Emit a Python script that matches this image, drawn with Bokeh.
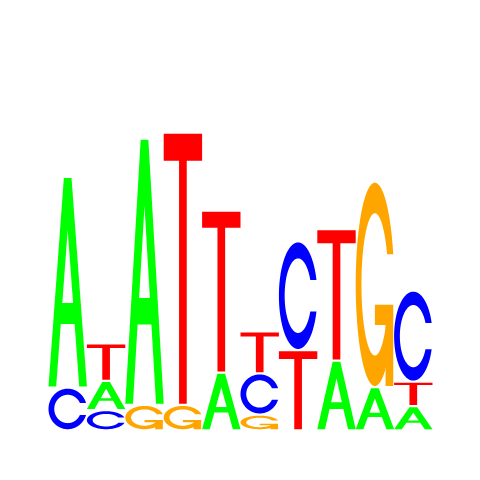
# seqlogo_plot.py
#
# Sequence logo drawn with letter polygons, stacked by height

# ========
# SETTINGS
# ========

# Libraries
import numpy as np
from bokeh import plotting
from bokeh import models
from bokeh.embed import file_html
from bokeh.resources import INLINE

# ====
# DATA
# ====

# Motif positions
positions = [1, 2, 3, 4, 5, 6, 7, 8, 9, 10]

# Letter heights (bits) per position
height_a = [1.39, 0.18, 1.76, 0.0, 0.37, 0.0, 0.0, 0.45, 0.273, 0.146]
height_c = [0.27, 0.12, 0.0, 0.0, 0.0, 0.26, 0.71, 0.0, 0.0, 0.593]
height_g = [0.0, 0.0, 0.155, 0.155, 0.0, 0.09, 0.0, 0.0, 1.355, 0.0]
height_t = [0.0, 0.235, 0.0, 1.80, 1.065, 0.265, 0.52, 0.861, 0.0, 0.148]

# Letter colours
colours = {'A': '#00ff00', 'C': '#0000ff', 'G': '#ffa500', 'T': '#ff0000'}

# Gap between stacked letters
gap = 0.015

# ======
# GLYPHS
# ======

def letter_c_ring():
	'''Outline of the letter C in the unit square'''

	angle1 = np.linspace(0.3 + np.pi / 2, np.pi, 100)
	angle2 = np.linspace(np.pi, 1.5 * np.pi, 100)

	# Outer curve, lower half then mirrored upper half
	xl = np.concatenate([0.5 + 0.5 * np.sin(angle1), 0.5 + 0.5 * np.sin(angle2)])
	yl = np.concatenate([0.5 + 0.5 * np.cos(angle1), 0.5 + 0.5 * np.cos(angle2)])
	x = np.concatenate([xl, xl[::-1]])
	y = np.concatenate([yl, 1 - yl[::-1]])

	# Inner curve, cut level with the outer end
	top = np.max(0.5 + 0.5 * np.cos(angle1))
	xi1 = 0.5 + 0.35 * np.sin(angle1)
	yi1 = 0.5 + 0.35 * np.cos(angle1)
	keep = yi1 <= top
	xi1 = xi1[keep]
	yi1 = yi1[keep]
	yi1[0] = top
	xi = np.concatenate([xi1, 0.5 + 0.35 * np.sin(angle2)])
	yi = np.concatenate([yi1, 0.5 + 0.35 * np.cos(angle2)])
	x1 = np.concatenate([xi, xi[::-1]])
	y1 = np.concatenate([yi, 1 - yi[::-1]])

	# Join outer and reversed inner
	return np.concatenate([x, x1[::-1]]), np.concatenate([y, y1[::-1]])

def letter_shapes(letter):
	'''Polygons (exterior plus holes) for a letter in the unit square'''

	if letter == 'A':
		outer = (np.array([0, 0.4, 0.6, 1, 0.8, 0.68, 0.32, 0.2]),
				 np.array([0, 1, 1, 0, 0, 0.3, 0.3, 0]))
		hole = (np.array([0.36, 0.5, 0.64]), np.array([0.4, 0.75, 0.4]))
		return [[outer, hole]]

	if letter == 'T':
		return [[(np.array([0, 1, 1, 0.6, 0.6, 0.4, 0.4, 0]),
				  np.array([1, 1, 0.9, 0.9, 0, 0, 0.9, 0.9]))]]

	ring = letter_c_ring()
	if letter == 'C':
		return [[ring]]

	# G is a C with a bar (kept as its own polygon so overlaps stay filled)
	r1 = np.max(ring[0])
	bar = (np.array([r1, 0.5, 0.5, r1 - 0.2, r1 - 0.2, r1, r1]),
		   np.array([0.4, 0.4, 0.3, 0.3, 0, 0, 0.4]))
	return [[ring], [bar]]

# ====
# MAIN
# ====

# Stack letters, smallest at the bottom
xs = []
ys = []
fill = []
for i, pos in enumerate(positions):
	column = {'A': height_a[i], 'C': height_c[i], 'G': height_g[i], 'T': height_t[i]}
	ypos = 0.0
	for letter in sorted(column, key=lambda k: column[k]):
		ht = column[letter]
		if ht <= 0:
			continue
		for poly in letter_shapes(letter):
			xs.append([[list(pos - 0.5 + rx) for rx, ry in poly]])
			ys.append([[list(ypos + ht * ry) for rx, ry in poly]])
			fill.append(colours[letter])
		ypos = ypos + ht + gap

source = models.ColumnDataSource(data=dict(xs=xs, ys=ys, fill=fill))

# Create figure
p = plotting.figure(
	width=464,
	height=464,
	x_range=models.Range1d(-0.75, 11.3333),
	y_range=models.Range1d(-0.2353, 2.858),
	tools='',
	toolbar_location=None,
	output_backend='svg',
	min_border=0
	)

# Add letters
p.multi_polygons(xs='xs', ys='ys', fill_color='fill', line_color=None, source=source)

# Tidy
p.axis.visible = False
p.grid.visible = False
p.outline_line_color = None
p.background_fill_color = 'white'
p.border_fill_color = 'white'

# Save figure
open('out.html', 'w').write(file_html(p, INLINE))
